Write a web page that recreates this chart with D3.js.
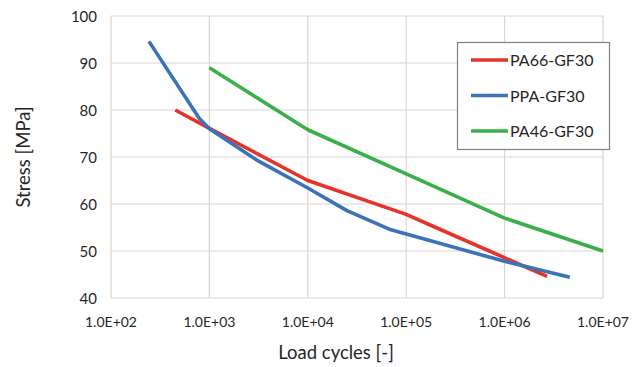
<!DOCTYPE html>
<html>
<head>
<meta charset="utf-8">
<script src="https://cdn.jsdelivr.net/npm/d3@7"></script>
<style>
  body { margin: 0; background: #fff; }
  text { font-family: Lato, "Open Sans", sans-serif; fill: #262626; }
</style>
</head>
<body>
<svg id="chart" width="642" height="367"></svg>
<script>
// series (load cycles, stress MPa)
let pa66 = [[450, 80], [1e3, 76.1], [1e4, 65], [1e5, 57.8], [2e5, 55], [2.7e6, 44.6]];
let ppa = [[243, 94.6], [790, 78.2], [1e3, 76], [3e3, 69.4], [1e4, 63.4], [2.5e4, 58.6], [7e4, 54.5], [1e6, 47.8], [4.6e6, 44.4]];
let pa46 = [[1e3, 89], [1e4, 75.8], [1e5, 66.4], [1e6, 57], [1e7, 50]];
let seriesNames = ["PA66-GF30", "PPA-GF30", "PA46-GF30"];
let seriesColors = ["#e5332a", "#3b72b8", "#3ab04a"];
let xTicks = [1e2, 1e3, 1e4, 1e5, 1e6, 1e7];
let yTicks = [40, 50, 60, 70, 80, 90, 100];

let svg = d3.select("#chart");
let plotL = 111, plotR = 603, plotT = 16, plotB = 298;

let x = d3.scaleLog().domain([1e2, 1e7]).range([plotL, plotR]);
let y = d3.scaleLinear().domain([40, 100]).range([plotB, plotT]);

// grid
let grid = svg.append("g").attr("stroke", "#dcd4d4").attr("stroke-width", 1.2);
grid.selectAll("line.h").data(yTicks).enter().append("line")
  .attr("x1", plotL).attr("x2", plotR)
  .attr("y1", d => y(d)).attr("y2", d => y(d));
grid.selectAll("line.v").data(xTicks).enter().append("line")
  .attr("y1", plotT).attr("y2", plotB)
  .attr("x1", d => x(d)).attr("x2", d => x(d));

// tick labels
svg.append("g").selectAll("text").data(yTicks).enter().append("text")
  .attr("x", plotL - 14).attr("y", d => y(d) + 5.5)
  .attr("text-anchor", "end").style("font-size", "15px")
  .text(d => d);

let fmt = d => "1.0E+" + String(Math.round(Math.log10(d))).padStart(2, "0");
svg.append("g").selectAll("text").data(xTicks).enter().append("text")
  .attr("x", d => x(d)).attr("y", plotB + 29)
  .attr("text-anchor", "middle").style("font-size", "14px")
  .text(fmt);

// axis titles
svg.append("text").attr("x", 336).attr("y", 359)
  .attr("text-anchor", "middle").style("font-size", "18.5px")
  .text("Load cycles [-]");
svg.append("text").attr("transform", "translate(30,157) rotate(-90)")
  .attr("text-anchor", "middle").style("font-size", "18.5px")
  .text("Stress [MPa]");

// lines
let line = d3.line().x(d => x(d[0])).y(d => y(d[1]));
[pa66, ppa, pa46].forEach((s, i) => {
  svg.append("path").datum(s)
    .attr("d", line)
    .attr("fill", "none")
    .attr("stroke", seriesColors[i])
    .attr("stroke-width", 3.6)
    .attr("stroke-linejoin", "round");
});

// legend
let lg = svg.append("g");
lg.append("rect").attr("x", 457.5).attr("y", 42.5).attr("width", 152).attr("height", 107)
  .attr("fill", "#fff").attr("stroke", "#808080").attr("stroke-width", 1.2);
seriesNames.forEach((n, i) => {
  let yy = 60 + i * 35.5;
  lg.append("line").attr("x1", 471).attr("x2", 508).attr("y1", yy).attr("y2", yy)
    .attr("stroke", seriesColors[i]).attr("stroke-width", 3.6);
  lg.append("text").attr("x", 510).attr("y", yy + 6).style("font-size", "16px").text(n);
});
</script>
</body>
</html>
